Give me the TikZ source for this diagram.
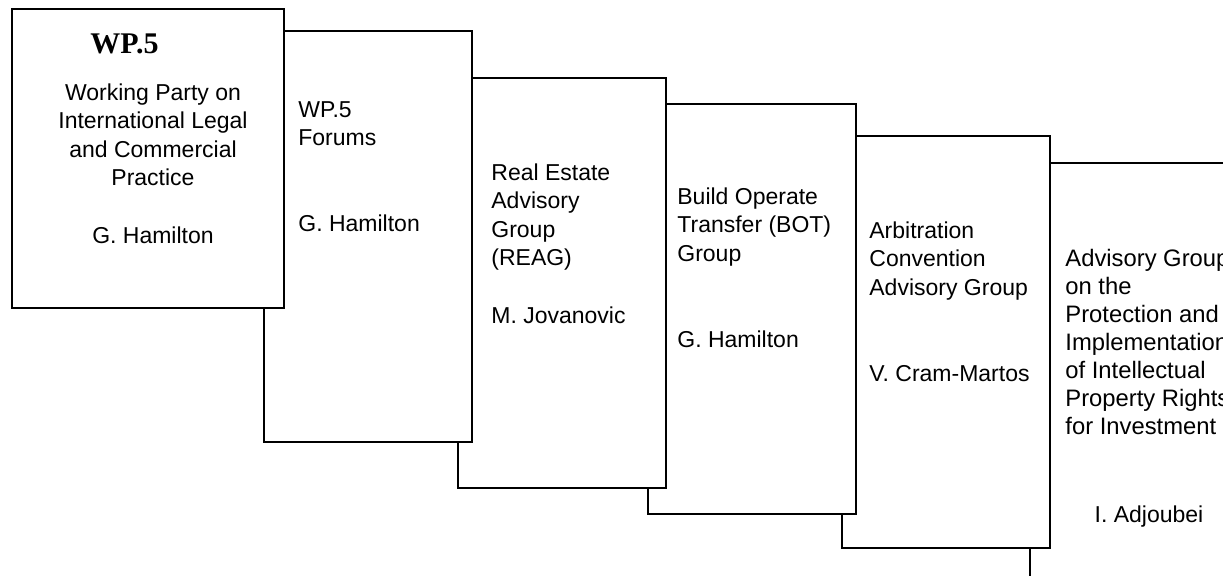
\documentclass[tikz,border=0pt]{standalone}
\usepackage{fontspec}
\setmainfont{Liberation Sans}
\newfontfamily\titlefont{Liberation Serif}
\begin{document}
\begin{tikzpicture}[x=0.5pt,y=-0.5pt,
  panel/.style={line width=1pt, fill=white},
  label/.style={inner sep=0pt, anchor=north west, align=left,
    font=\fontsize{11.5}{14.3}\selectfont}]

  \useasboundingbox (0,0) rectangle (1223,575);
  \clip (0,0) rectangle (1223,575);

  % Panels, drawn back to front so each one covers the next
  \foreach \xa/\ya/\xb/\yb in {1030/163/1240/600, 842/136/1050/548,
      648/104/856/514, 458/78/666/488, 264/31/472/442, 12/9/284/308}{
    \draw[panel] (\xa,\ya) rectangle (\xb,\yb);
  }

  % Working party
  \node[inner sep=0pt, anchor=base west,
    font=\titlefont\bfseries\fontsize{15}{18}\selectfont] (wp) at (90,53) {WP.5};
  \node[label, anchor=north, align=center] (wpname) at (153,83)
    {Working Party on\\International Legal\\and Commercial\\Practice\\[14.3pt]G. Hamilton};

  % Groups
  \node[label] (forums) at (298,101) {WP.5\\Forums\\[28.6pt]G. Hamilton};
  \node[label] (reag) at (491,163)
    {Real Estate\\Advisory\\Group\\(REAG)\\[14.3pt]M. Jovanovic};
  \node[label] (bot) at (677,187)
    {Build Operate\\Transfer (BOT)\\Group\\[28.6pt]G. Hamilton};
  \node[label] (arb) at (869,221)
    {Arbitration\\Convention\\Advisory Group\\[28.6pt]V. Cram-Martos};
  \node[label, font=\fontsize{11.9}{14}\selectfont] (ipr) at (1065,249)
    {Advisory Group\\on the\\Protection and\\Implementation\\of Intellectual\\Property Rights\\for Investment};
  \node[label, anchor=north] (adjoubei) at (1149,505) {I. Adjoubei};

\end{tikzpicture}
\end{document}
